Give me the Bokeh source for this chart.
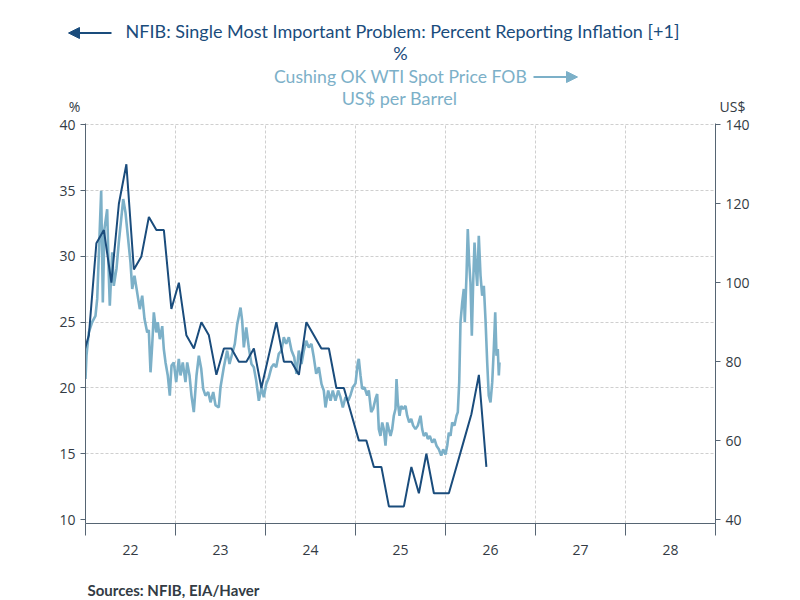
from bokeh.plotting import figure
from bokeh.layouts import column
from bokeh.models import LinearAxis, Range1d, FixedTicker, Arrow, NormalHead
from bokeh.core.properties import value
from bokeh.embed import file_html
from bokeh.resources import INLINE

# NFIB: percent reporting inflation as single most important problem [+1], monthly
# month index counted from Jan 2022 (=0)
nfib_month = list(range(-1, 54))
nfib_pct = [22, 24, 31, 32, 28, 34, 37, 29, 30, 33, 32, 32, 26, 28, 24, 23, 25, 24,
            21, 23, 23, 22, 22, 23, 20, 22.5, 25, 22, 22, 21, 25, 24, 23, 23, 20, 20,
            18, 16, 16, 14, 14, 11, 11, 11, 14, 12, 15, 12, 12, 12, 14, 16, 18, 21, 14]

# WTI spot price, US$ per barrel (months since Jan 2022, value)
wti_month = [0.00, 0.13, 0.44, 0.89, 1.33, 1.56, 1.77, 2.09, 2.31, 2.53, 2.89, 3.11,
             3.24, 3.56, 3.77, 4.13, 4.44, 4.76, 5.03, 5.33, 5.64, 6.00, 6.23, 6.53,
             6.89, 7.24, 7.56, 7.87, 8.23, 8.44, 8.67, 8.89, 9.11, 9.43, 9.64, 9.91,
             10.23, 10.44, 10.67, 10.97, 11.24, 11.47, 11.77, 12.09, 12.44, 12.67, 12.97,
             13.33, 13.56, 13.87, 14.13, 14.44, 14.80, 15.11, 15.43, 15.69, 16.00, 16.36,
             16.67, 17.03, 17.33, 17.77, 18.00, 18.44, 18.89, 19.20, 19.56, 19.91, 20.23,
             20.67, 20.89, 21.11, 21.43, 21.77, 22.13, 22.44, 22.76, 23.11, 23.47, 23.77,
             24.09, 24.44, 24.80, 25.11, 25.43, 25.77, 26.13, 26.44, 26.76, 27.11, 27.47,
             27.83, 28.13, 28.44, 28.80, 29.11, 29.43, 29.77, 30.13, 30.44, 30.76, 31.11,
             31.47, 31.77, 32.00, 32.36, 32.67, 32.97, 33.33, 33.69, 34.00, 34.31, 34.67,
             35.03, 35.33, 35.64, 36.00, 36.31, 36.44, 36.67, 36.89, 37.20, 37.56, 37.77,
             38.09, 38.36, 38.67, 38.89, 39.11, 39.33, 39.56, 39.77, 40.00, 40.23, 40.44,
             40.67, 40.89, 41.11, 41.33, 41.47, 41.64, 41.87, 42.09, 42.36, 42.67, 42.89,
             43.16, 43.43, 43.69, 44.00, 44.31, 44.67, 44.89, 45.11, 45.43, 45.64, 45.91,
             46.23, 46.53, 46.80, 47.11, 47.43, 47.69, 48.00, 48.23, 48.44, 48.67, 48.89,
             49.20, 49.47, 49.64, 49.83, 50.00, 50.23, 50.44, 50.57, 50.80, 50.97, 51.16,
             51.33, 51.51, 51.69, 51.87, 52.04, 52.23, 52.44, 52.67, 52.89, 53.11, 53.33,
             53.56, 53.77, 54.00, 54.23, 54.44, 54.63, 54.80, 54.97, 55.11, 55.20]
wti_usd = [75.6, 81.5, 87.4, 90.0, 91.6, 95.9, 106.8, 123.3, 95.0, 113.7, 118.6, 101.8,
           94.2, 107.7, 99.2, 103.5, 110.2, 116.1, 121.2, 117.8, 111.9, 105.1, 98.4, 101.8,
           97.5, 93.3, 96.7, 90.8, 87.4, 88.0, 77.3, 84.1, 92.5, 87.4, 90.0, 85.7,
           89.0, 83.2, 79.8, 76.5, 71.4, 79.0, 79.8, 74.8, 80.7, 76.5, 79.8,
           74.8, 79.8, 76.5, 71.4, 67.2, 76.5, 81.5, 78.2, 73.1, 71.4, 72.3,
           69.7, 72.3, 69.0, 68.4, 73.5, 78.6, 82.8, 79.4, 82.0, 84.5, 89.5,
           93.7, 90.4, 83.6, 88.7, 83.6, 79.4, 78.6, 75.2, 70.1, 73.5, 71.0,
           74.3, 76.0, 78.6, 79.4, 78.6, 82.0, 82.8, 86.2, 84.5, 86.2, 82.8,
           81.1, 76.9, 82.8, 79.4, 82.8, 85.3, 83.6, 84.5, 81.1, 76.9, 78.6,
           74.3, 72.7, 68.4, 72.7, 70.1, 72.7, 70.1, 72.7, 71.0, 68.4, 71.0,
           70.1, 71.5, 73.5, 74.5, 79.8, 80.7, 76.5, 73.1, 73.5, 71.4, 72.7,
           67.2, 68.1, 70.6, 71.8, 62.9, 61.2, 64.6, 62.9, 58.7, 64.6, 62.9,
           61.2, 62.9, 66.3, 68.0, 75.6, 69.7, 66.3, 68.8, 68.0, 68.8, 66.3,
           64.6, 65.5, 63.8, 62.9, 63.8, 66.3, 62.9, 61.2, 62.0, 60.4, 61.2,
           59.5, 60.4, 58.7, 57.8, 56.2, 57.8, 56.5, 58.7, 62.0, 61.2, 64.6,
           63.8, 66.3, 67.2, 74.8, 90.0, 95.0, 98.4, 90.0, 101.8, 113.6, 105.1,
           100.0, 86.6, 100.0, 110.2, 104.2, 99.2, 111.9, 101.8, 96.7, 99.2, 90.8,
           79.8, 71.4, 69.7, 74.8, 83.2, 92.5, 81.5, 83.2, 76.5, 79.8]

year_labels = ["22", "23", "24", "25", "26", "27", "28"]
left_ticks = [10, 15, 20, 25, 30, 35, 40]
right_ticks = [40, 60, 80, 100, 120, 140]

DARK = "#1a4c7c"
LIGHT = "#7cb0c8"
AXIS = "#566573"
TXT = "#333b44"
FONT = "Lato"
W = 792

nfib_x = [2022 + (m + 0.45) / 12 for m in nfib_month]
wti_x = [2022 + m / 12 for m in wti_month]


def blank(h):
    f = figure(width=W, height=h, output_backend="svg", toolbar_location=None,
               x_range=Range1d(0, W), y_range=Range1d(h, 0),
               x_axis_type=None, y_axis_type=None, min_border=0)
    f.frame_align = False
    f.outline_line_color = None
    f.grid.visible = False
    return f


# header with the series key
head = blank(115)
head.text(x=[402], y=[30], text=["NFIB: Single Most Important Problem: Percent Reporting Inflation [+1]"],
          text_align="center", text_baseline="middle", text_font=value(FONT),
          text_font_size="18px", text_color=DARK)
head.text(x=[400], y=[52], text=["%"], text_align="center", text_baseline="middle",
          text_font=value(FONT), text_font_size="18px", text_color=DARK)
head.text(x=[400], y=[76], text=["Cushing OK WTI Spot Price FOB"], text_align="center",
          text_baseline="middle", text_font=value(FONT), text_font_size="17.6px", text_color=LIGHT)
head.text(x=[399], y=[97], text=["US$ per Barrel"], text_align="center", text_baseline="middle",
          text_font=value(FONT), text_font_size="18px", text_color=LIGHT)
head.add_layout(Arrow(x_start=111, y_start=32.5, x_end=68, y_end=32.5,
                      line_color=DARK, line_width=2,
                      end=NormalHead(size=11, fill_color=DARK, line_color=DARK)))
head.add_layout(Arrow(x_start=533, y_start=76.5, x_end=577, y_end=76.5,
                      line_color=LIGHT, line_width=2,
                      end=NormalHead(size=11, fill_color=LIGHT, line_color=LIGHT)))
head.text(x=[74], y=[106], text=["%"], text_align="center", text_baseline="middle",
          text_font=value("Open Sans"), text_font_size="14px", text_color=TXT)
head.text(x=[732], y=[106], text=["US$"], text_align="center", text_baseline="middle",
          text_font=value("Open Sans"), text_font_size="14px", text_color=TXT)

# main chart
p = figure(width=W, height=458, output_backend="svg", toolbar_location=None,
           x_range=Range1d(2022, 2029), y_range=Range1d(9.7, 40.1),
           min_border_left=85, min_border_right=77, min_border_top=8,
           min_border_bottom=50)
p.outline_line_color = None
p.extra_y_ranges = {"wti": Range1d(39, 40 + 30.1 * 100 / 30)}

p.line(wti_x, wti_usd, y_range_name="wti", line_color=LIGHT, line_width=2.6)
p.line(nfib_x, nfib_pct, line_color=DARK, line_width=2)

# x axis: labels mid-year, ticks on year boundaries
years = list(range(2022, 2030))
mids = [y + 0.5 for y in years[:-1]]
xa = p.xaxis[0]
xa.ticker = FixedTicker(ticks=mids, minor_ticks=years)
xa.major_label_overrides = {m: lab for m, lab in zip(mids, year_labels)}
xa.major_tick_line_color = None
xa.major_tick_out = 0
xa.major_tick_in = 0
xa.minor_tick_out = 12
xa.minor_tick_in = 0
xa.minor_tick_line_color = AXIS
xa.axis_line_color = AXIS
xa.major_label_text_font_size = "14px"
xa.major_label_text_font = "Open Sans"
xa.major_label_text_color = TXT
xa.major_label_standoff = 9

ya = p.yaxis[0]
ya.ticker = FixedTicker(ticks=left_ticks)
ra = LinearAxis(y_range_name="wti", ticker=FixedTicker(ticks=right_ticks))
p.add_layout(ra, "right")
for ax in [ya, ra]:
    ax.major_tick_out = 5
    ax.major_tick_in = 0
    ax.minor_tick_line_color = None
    ax.axis_line_color = AXIS
    ax.major_tick_line_color = AXIS
    ax.major_label_text_font_size = "14px"
    ax.major_label_text_font = "Open Sans"
    ax.major_label_text_color = TXT

p.xgrid.ticker = FixedTicker(ticks=years[1:-1])
p.ygrid.ticker = FixedTicker(ticks=left_ticks[1:])
for g in [p.xgrid[0], p.ygrid[0]]:
    g.grid_line_color = "#cfcfcf"
    g.grid_line_dash = "3 2"
    g.grid_line_width = 1

# footer
foot = blank(25)
foot.text(x=[87], y=[16], text=["Sources:  NFIB, EIA/Haver"], text_align="left",
          text_baseline="middle", text_font=value(FONT), text_font_style="bold",
          text_font_size="15px", text_color=TXT)

layout = column(head, p, foot, spacing=0)
open("out.html", "w").write(file_html(layout, INLINE))
